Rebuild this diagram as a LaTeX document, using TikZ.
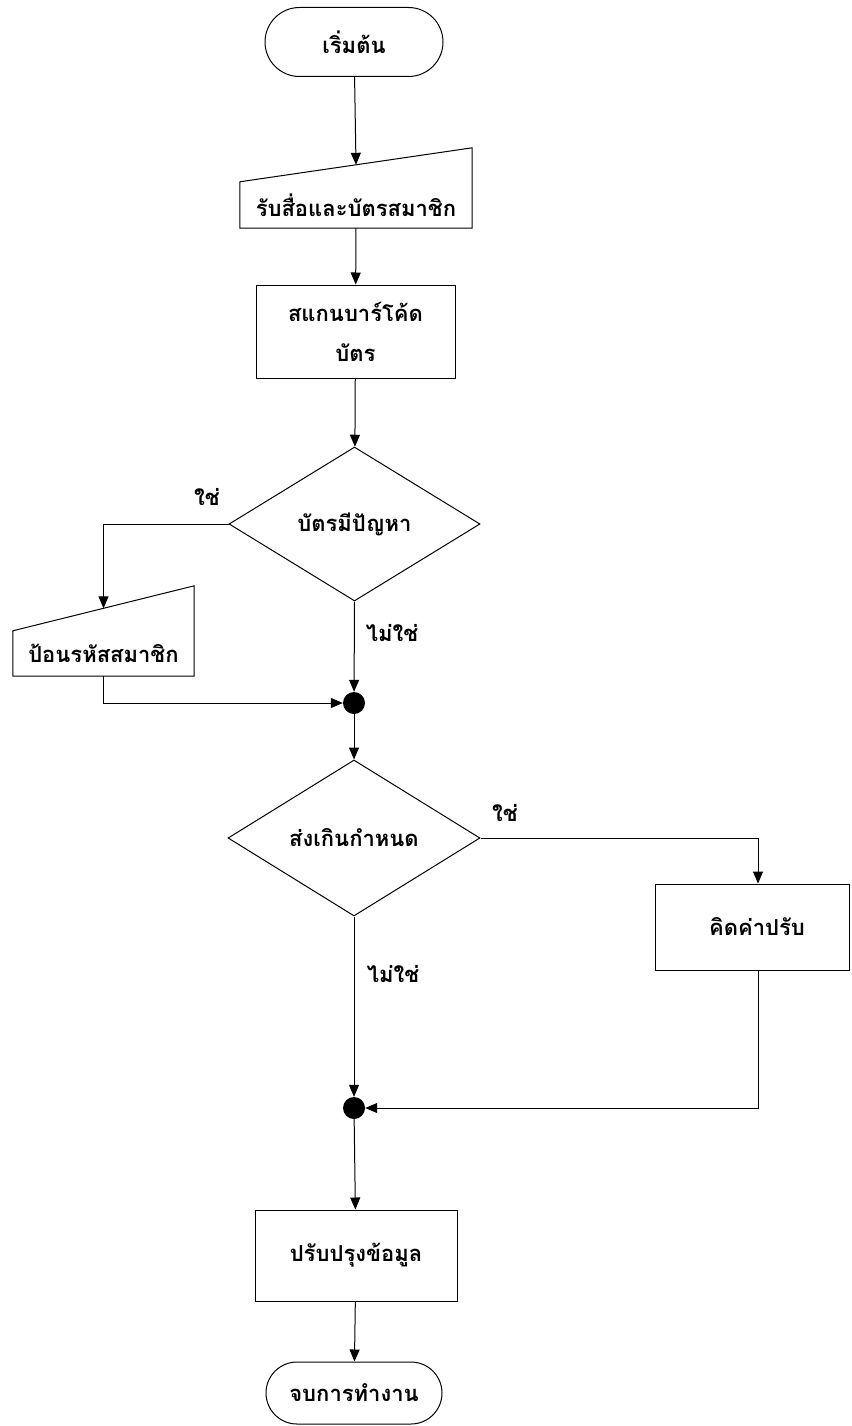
\documentclass[tikz,border=0pt]{standalone}
\usepackage{fontspec}
\newfontfamily\thaifont[Script=Thai]{Loma}
\usetikzlibrary{arrows.meta,shapes.geometric,shapes.misc,calc}
\tikzset{
  every node/.style={font=\thaifont\bfseries\fontsize{22}{26}\selectfont},
  line/.style={line width=1pt,draw=black},
  arr/.style={line, -{Triangle[length=12pt,width=10pt]}},
  term/.style={line, rounded rectangle, inner sep=0pt, align=center},
  proc/.style={line, rectangle, inner sep=0pt, align=center},
  dec/.style={line, diamond, inner sep=0pt, align=center},
  inbox/.style={rectangle, inner sep=0pt, align=center},
  junction/.style={circle, fill=black, inner sep=0pt, minimum size=22pt},
  lbl/.style={inner sep=0pt}
}
\begin{document}
\begin{tikzpicture}[x=1pt,y=-1pt]
\useasboundingbox (0,0) rectangle (851,1426);
% nodes
\node[term, minimum width=178pt, minimum height=69pt] (start) at (354,42) {เริ่มต้น};
\node[inbox, minimum width=232pt, minimum height=46pt] (in1) at (356,205) {รับสื่อและบัตรสมาชิก};
\node[proc, minimum width=199pt, minimum height=93pt] (scan) at (355.5,331.5) {สแกนบาร์โค้ด\\[14pt]บัตร};
\node[dec, minimum width=251pt, minimum height=154pt] (d1) at (354.5,524) {บัตรมีปัญหา};
\node[inbox, minimum width=181pt, minimum height=45pt] (in2) at (103.5,653.5) {ป้อนรหัสสมาชิก};
\node[junction] (j1) at (354,703) {};
\node[dec, minimum width=252pt, minimum height=156pt] (d2) at (354,838) {ส่งเกินกำหนด};
\node[proc, minimum width=194pt, minimum height=86pt] (fine) at (752,927) {\hspace{10pt}คิดค่าปรับ};
\node[junction] (j2) at (354,1108) {};
\node[proc, minimum width=202pt, minimum height=91pt] (upd) at (356,1255.5) {ปรับปรุงข้อมูล};
\node[term, minimum width=176pt, minimum height=62pt] (end) at (354,1393) {จบการทำงาน};
% manual input outlines
\draw[line] (in1.south west) -- (in1.south east) -- ($(in1.north east)+(0,-34)$) -- (in1.north west) -- cycle;
\draw[line] (in2.south west) -- (in2.south east) -- ($(in2.north east)+(0,-45)$) -- (in2.north west) -- cycle;
\coordinate (in1top) at ($(in1.north)+(0,-17)$);
\coordinate (in2top) at ($(in2.north)+(0,-22.5)$);
\coordinate (fineN) at ($(fine.north)+(6,0)$);
\coordinate (fineS) at ($(fine.south)+(6,0)$);
% labels
\node[lbl] (y1) at (207,497) {ใช่};
\node[lbl] (n1) at (392,633) {ไม่ใช่};
\node[lbl] (y2) at (505,813) {ใช่};
\node[lbl] (n2) at (393,974) {ไม่ใช่};
% connectors
\draw[arr] (start) -- (in1top);
\draw[arr] (in1) -- (scan);
\draw[arr] (scan) -- (d1);
\draw[arr] (d1.west) -| (in2top);
\draw[arr] (d1.south) -- (j1);
\draw[arr] (in2.south) |- (j1);
\draw[arr] (j1) -- (d2.north);
\draw[arr] (d2.east) -| (fineN);
\draw[arr] (d2.south) -- (j2);
\draw[arr] (fineS) |- (j2);
\draw[arr] (j2) -- (upd);
\draw[arr] (upd) -- (end);
\end{tikzpicture}
\end{document}
